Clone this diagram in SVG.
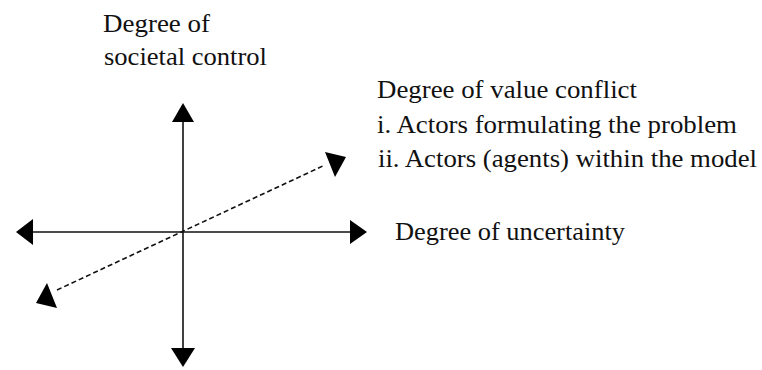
<svg xmlns="http://www.w3.org/2000/svg" width="762" height="370" viewBox="0 0 762 370">
<style>
.t{font-family:'Times New Roman','Tinos','Nimbus Roman','Liberation Serif','DejaVu Serif',serif;font-size:25px;fill:#111}
.ax{stroke:#111;stroke-width:1.6;fill:none}
.dash{stroke:#111;stroke-width:1.6;fill:none;stroke-dasharray:5,3}
.head{fill:#000}
</style>
<rect width="762" height="370" fill="#fff"/>
<g id="connectors">
<line class="ax" x1="183" y1="118" x2="183" y2="350"/>
<line class="ax" x1="30" y1="232" x2="352" y2="232"/>
<line class="dash" x1="57" y1="290" x2="325" y2="165"/>
<polygon class="head" points="183,103 172,122 194,122"/>
<polygon class="head" points="183,367 171,348 195,348"/>
<polygon class="head" points="16,232 33,219 33,245"/>
<polygon class="head" points="367,232 350,220 350,244"/>
<polygon class="head" points="325,152 346,157 335,177"/>
<polygon class="head" points="47,283 36,303 57,308"/>
</g>
<g id="label-control">
<text class="t" x="103" y="32" textLength="107" lengthAdjust="spacingAndGlyphs">Degree of</text>
<text class="t" x="104" y="65" textLength="163" lengthAdjust="spacingAndGlyphs">societal control</text>
</g>
<g id="label-conflict">
<text class="t" x="377" y="98" textLength="260" lengthAdjust="spacingAndGlyphs">Degree of value conflict</text>
<text class="t" x="377" y="133" textLength="360" lengthAdjust="spacingAndGlyphs">i. Actors formulating the problem</text>
<text class="t" x="378" y="167" textLength="379" lengthAdjust="spacingAndGlyphs">ii. Actors (agents) within the model</text>
</g>
<g id="label-uncertainty">
<text class="t" x="395" y="240" textLength="230" lengthAdjust="spacingAndGlyphs">Degree of uncertainty</text>
</g>
</svg>
